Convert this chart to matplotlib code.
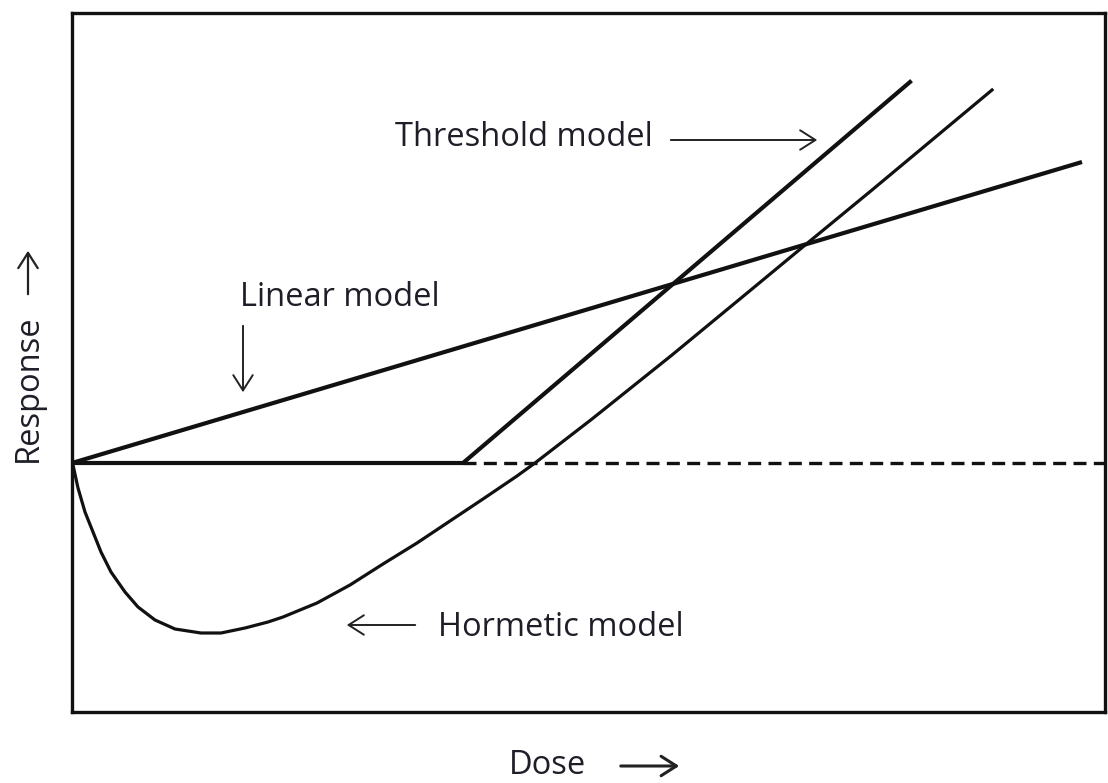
import matplotlib
matplotlib.use("Agg")
import matplotlib.pyplot as plt
import matplotlib.patches as mpatches

# Data (dose units, response units relative to the baseline response)
linear_x = [0, 1010]
linear_y = [0, 301]

threshold_x = [0, 391, 838]
threshold_y = [0, 0, 381]

baseline_x = [391, 1033]
baseline_y = [0, 0]

hormetic_x = [0, 1, 6, 13, 21, 29, 39, 53, 66, 83, 103, 129, 149, 173, 196, 211,
              245, 278, 311, 345, 378, 411, 445, 463, 520, 600, 680, 738, 800, 860, 920]
hormetic_y = [0, -2, -25, -49, -69, -89, -109, -129, -144, -157, -166, -170, -170, -165, -159, -154,
              -140, -122, -101, -80, -58, -36, -13, 0, 44, 108, 174, 222, 273, 323, 373]

W, H = 1108, 783
fig = plt.figure(figsize=(W/100, H/100), dpi=100)
ax = fig.add_axes([72/W, 1-712/H, 1033/W, 699/H])
ax.set_xlim(0, 1033)
ax.set_ylim(-249, 450)
ax.set_xticks([]); ax.set_yticks([])
for s in ax.spines.values():
    s.set_linewidth(2.4)
    s.set_color("#111111")

ax.plot(linear_x, linear_y, color="#111111", lw=3.0, solid_capstyle="butt")
ax.plot(threshold_x, threshold_y, color="#111111", lw=3.0, solid_joinstyle="miter")
ax.plot(baseline_x, baseline_y, color="#111111", lw=2.4, dashes=(3.9, 2.2))
ax.plot(hormetic_x, hormetic_y, color="#111111", lw=2.3, solid_joinstyle="round")

font = "Open Sans"
fs = 23.5
col = "#1e1e28"

def fx(px):
    return px / W

def fy(py):
    return 1 - py / H

def arrow(x0, y0, x1, y1, lw=1.4):
    fig.patches.append(mpatches.FancyArrowPatch(
        (fx(x0), fy(y0)), (fx(x1), fy(y1)), transform=fig.transFigure,
        arrowstyle="->,head_length=0.55,head_width=0.35", mutation_scale=20,
        lw=lw, color="#222222"))

fig.text(fx(395), fy(138), "Threshold model", family=font, fontsize=fs, color=col, ha="left", va="center")
arrow(668, 140, 820, 140)

fig.text(fx(240), fy(297), "Linear model", family=font, fontsize=fs, color=col, ha="left", va="center")
arrow(243, 323, 243, 395)

fig.text(fx(438), fy(627), "Hormetic model", family=font, fontsize=fs, color=col, ha="left", va="center")
arrow(418, 625, 344, 625)

fig.text(fx(548), fy(765), "Dose", family=font, fontsize=fs, color=col, ha="center", va="center")
arrow(618, 766, 682, 766, lw=2.2)

fig.text(fx(28), fy(388), "Response", family=font, fontsize=fs, color=col, ha="center", va="center", rotation=90)
arrow(28, 297, 28, 248, lw=1.6)

fig.savefig("out.png", dpi=100, facecolor="white")
